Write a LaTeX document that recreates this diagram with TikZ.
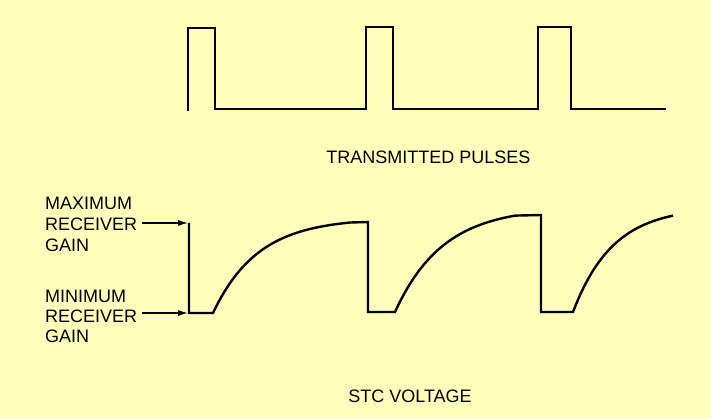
\documentclass[tikz,border=0pt]{standalone}
\usepackage{fontspec}
\setmainfont{Liberation Sans}
\usetikzlibrary{arrows.meta}
\definecolor{bgyellow}{HTML}{FFFFBB}
\tikzset{
  lbl/.style={font=\fontsize{18}{20}\selectfont, inner sep=0pt, anchor=base west, text=black},
  title/.style={font=\fontsize{18}{20}\selectfont, inner sep=0pt, anchor=base, text=black},
  wave/.style={line width=2.4pt, line join=miter, black},
  gainarrow/.style={line width=1.2pt, -{Latex[length=10pt,width=6pt]}, shorten >=1pt},
}
\begin{document}
\begin{tikzpicture}[x=1pt,y=-1pt]
\fill[bgyellow] (0,0) rectangle (711,419);
\useasboundingbox (0,0) rectangle (711,419);
% transmitted pulses
\draw[wave] (188,111) -- (188,28) -- (215,28) -- (215,109) -- (366,109) -- (366,27) -- (393,27) -- (393,109)
  -- (538,109) -- (538,27) -- (571,27) -- (571,109) -- (666,109);
\node[title] (tp) at (428.5,164) {TRANSMITTED PULSES};
% STC voltage
\coordinate (vtop) at (189,223);
\coordinate (vbot) at (189,313);
\draw[wave] (vtop) -- (vbot) -- (213,313)
  -- plot[domain=213:350, samples=40, smooth] (\x, {313-95*(1-exp(-(\x-213)/45))})
  -- (368,222) -- (368,312) -- (395,312)
  -- plot[domain=395:515, samples=40, smooth] (\x, {312-105*(1-exp(-(\x-395)/48))})
  -- (541,215) -- (541,312) -- (573,312)
  -- plot[domain=573:673, samples=40, smooth] (\x, {312-105*(1-exp(-(\x-573)/40))});
\node[title] (stc) at (410,402) {STC VOLTAGE};
% labels
\node[lbl] (maxA) at (45,210) {MAXIMUM};
\node[lbl] (maxB) at (45,231) {RECEIVER};
\node[lbl] (maxC) at (45,252) {GAIN};
\node[lbl] (minA) at (45,302) {MINIMUM};
\node[lbl] (minB) at (45,322) {RECEIVER};
\node[lbl] (minC) at (45,342) {GAIN};
\draw[gainarrow] ([xshift=5pt]vtop -| maxB.east) -- (vtop);
\draw[gainarrow] ([xshift=5pt]vbot -| minB.east) -- (vbot);
\end{tikzpicture}
\end{document}
